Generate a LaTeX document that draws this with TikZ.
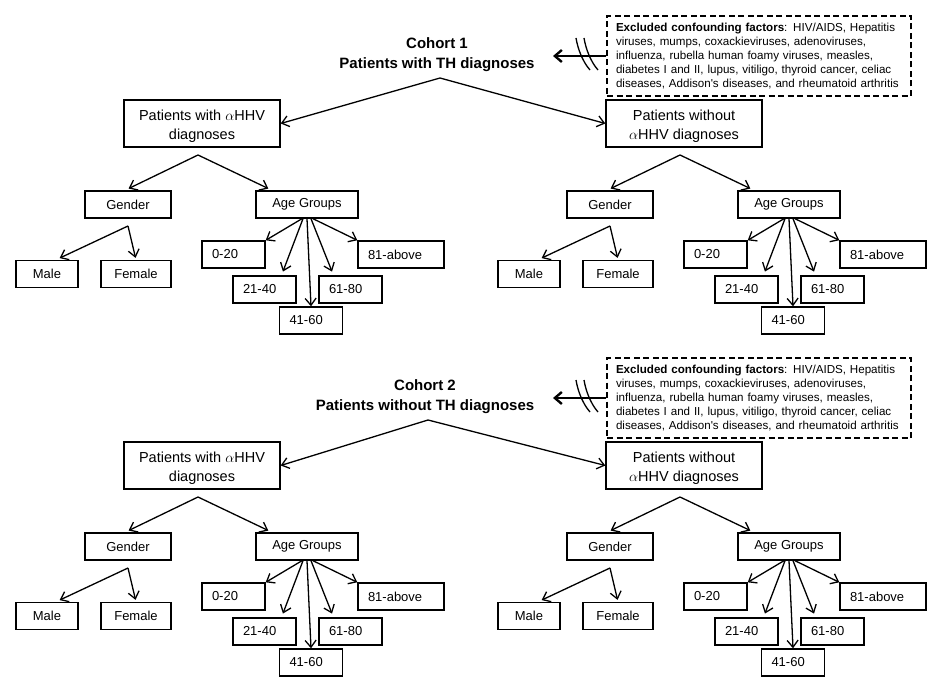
\documentclass[tikz,border=0pt]{standalone}
\usepackage{fontspec}
\setmainfont{Liberation Sans}
\usetikzlibrary{arrows.meta}

\begin{document}
\begin{tikzpicture}[x=1pt,y=-1pt,
    mainbox/.style={draw,line width=1.4pt,minimum width=156pt,minimum height=47pt,align=center,font=\fontsize{14.5}{19}\selectfont},
    smallbox/.style={draw,line width=1.4pt,minimum width=#1,minimum height=27pt,font=\fontsize{13}{15}\selectfont},
    agebox/.style={draw,line width=1.4pt,text width=#1,inner xsep=10pt,minimum height=27pt,align=left,font=\fontsize{13}{15}\selectfont},
    agebox/.default=43pt,
    exbox/.style={draw,dash pattern=on 6pt off 3.5pt,line width=1.5pt,text width=286pt,inner xsep=9pt,minimum height=80pt,align=left,font=\fontsize{11.6}{14}\selectfont},
    cohort/.style={align=center,font=\fontsize{15}{20}\selectfont\bfseries},
    arr/.style={line width=1.3pt,-{Straight Barb[length=7pt,width=11pt]}},
    thickarr/.style={line width=2.4pt,-{Straight Barb[length=7pt,width=12pt]}}]
  \useasboundingbox (0,0) rectangle (933,700);
  \foreach \n/\dy/\tx/\ttl in {1/0/437/with, 2/342/425/without}{
    \begin{scope}[shift={(0,\dy)}]
      % cohort heading
      \node[cohort] (t\n) at (\tx,55) {Cohort \n\\Patients \ttl\ TH diagnoses};
      \coordinate (ta\n) at (\tx+3,78);
      % excluded factors
      \node[exbox] (ex\n) at (759,56) {\textbf{Excluded confounding factors}: HIV/AIDS, Hepatitis\\
        viruses, mumps, coxackieviruses, adenoviruses,\\
        influenza, rubella human foamy viruses, measles,\\
        diabetes I and II, lupus, vitiligo, thyroid cancer, celiac\\
        diseases, Addison\textquotesingle s diseases, and rheumatoid arthritis};
      \coordinate (et\n) at (553,56);
      \draw[thickarr] (ex\n.west) -- (et\n);
      \draw[line width=1.3pt] ([shift={(23,-18)}]et\n) .. controls ([shift={(25,-6)}]et\n) and ([shift={(30,6)}]et\n) .. ([shift={(37,14)}]et\n);
      \draw[line width=1.3pt] ([shift={(31,-18)}]et\n) .. controls ([shift={(33,-6)}]et\n) and ([shift={(38,6)}]et\n) .. ([shift={(45,14)}]et\n);
      % the two subtrees
      \foreach \s/\dx/\lab in {l/0/{Patients with $\alpha$HHV\\diagnoses}, r/482/{Patients without\\$\alpha$HHV diagnoses}}{
        \node[mainbox] (p\s\n) at (202+\dx,123.5) {\rule{0pt}{17pt}\lab};
        \coordinate (pa\s\n) at (198+\dx,155);
        \node[smallbox=86pt] (g\s\n) at (128+\dx,204.5) {Gender};
        \node[smallbox=102pt] (ag\s\n) at (307+\dx,204.5) {Age Groups};
        \coordinate (ga\s\n) at (128+\dx,226);
        \node[smallbox=62pt] (m\s\n) at (47+\dx,274) {Male};
        \node[smallbox=70pt] (f\s\n) at (136+\dx,274) {Female};
        \node[agebox] (a\s\n1) at (233.5+\dx,254.5) {0-20};
        \node[agebox] (a\s\n2) at (264.5+\dx,289.5) {21-40};
        \node[agebox] (a\s\n3) at (311+\dx,320.5) {41-60};
        \node[agebox] (a\s\n4) at (350.5+\dx,289.5) {61-80};
        \node[agebox=66pt] (a\s\n5) at (401+\dx,254.5) {81-above};
        \draw[arr,shorten >=4pt] (pa\s\n) -- ([xshift=-3pt]g\s\n.north);
        \draw[arr,shorten >=4pt] (pa\s\n) -- ([xshift=-35pt]ag\s\n.north);
        \draw[arr,shorten >=4pt] (ga\s\n) -- ([xshift=9pt]m\s\n.north);
        \draw[arr,shorten >=2pt] (ga\s\n) -- (f\s\n.north);
        \draw[arr] ([xshift=-5pt]ag\s\n.south) -- (a\s\n1.north east);
        \draw[arr,shorten >=4pt] ([xshift=-4pt]ag\s\n.south) -- ([xshift=17pt]a\s\n2.north);
        \draw[arr] (ag\s\n.south) -- (a\s\n3.north);
        \draw[arr,shorten >=4pt] ([xshift=4pt]ag\s\n.south) -- ([xshift=-17pt]a\s\n4.north);
        \draw[arr] ([xshift=6pt]ag\s\n.south) -- (a\s\n5.north west);
      }
      \draw[arr] (ta\n) -- (pl\n.east);
      \draw[arr] (ta\n) -- (pr\n.west);
    \end{scope}
  }
\end{tikzpicture}
\end{document}
